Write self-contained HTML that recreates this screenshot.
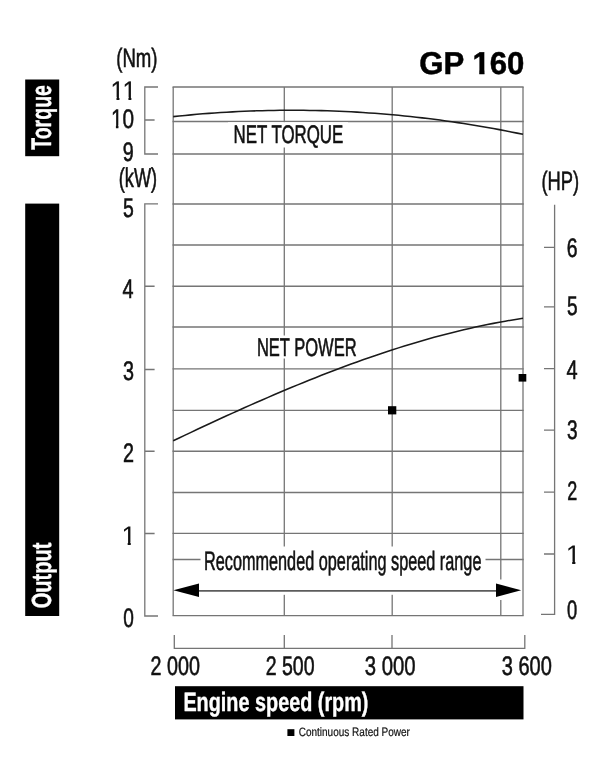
<!DOCTYPE html>
<html lang="en"><head><meta charset="utf-8"><title>GP 160 performance curve</title>
<style>html,body{margin:0;padding:0;background:#fff}svg{display:block}text{font-family:"Liberation Sans",Arial,Helvetica,sans-serif;text-rendering:geometricPrecision}</style></head><body>
<svg width="600" height="763" viewBox="0 0 600 763">
<rect width="600" height="763" fill="#fff"/>
<g stroke="#757575" stroke-width="1.3" fill="none">
<line x1="173.2" y1="87.0" x2="523.0" y2="87.0" stroke-linecap="square"/>
<line x1="173.2" y1="121.5" x2="523.0" y2="121.5" stroke-linecap="square"/>
<line x1="173.2" y1="154.0" x2="523.0" y2="154.0" stroke-linecap="square"/>
<line x1="173.2" y1="204.0" x2="523.0" y2="204.0" stroke-linecap="square"/>
<line x1="173.2" y1="245" x2="523.0" y2="245" stroke-linecap="square"/>
<line x1="173.2" y1="286.25" x2="523.0" y2="286.25" stroke-linecap="square"/>
<line x1="173.2" y1="327.0" x2="523.0" y2="327.0" stroke-linecap="square"/>
<line x1="173.2" y1="368.8" x2="523.0" y2="368.8" stroke-linecap="square"/>
<line x1="173.2" y1="410.3" x2="523.0" y2="410.3" stroke-linecap="square"/>
<line x1="173.2" y1="451.25" x2="523.0" y2="451.25" stroke-linecap="square"/>
<line x1="173.2" y1="492.5" x2="523.0" y2="492.5" stroke-linecap="square"/>
<line x1="173.2" y1="533.4" x2="523.0" y2="533.4" stroke-linecap="square"/>
<line x1="173.2" y1="559.5" x2="523.0" y2="559.5" stroke-linecap="square"/>
<line x1="173.2" y1="615.6" x2="523.0" y2="615.6" stroke-linecap="square"/>
<line x1="173.2" y1="87.0" x2="173.2" y2="615.6"/>
<line x1="284.3" y1="87.0" x2="284.3" y2="615.6"/>
<line x1="392.2" y1="87.0" x2="392.2" y2="615.6"/>
<line x1="500.8" y1="87.0" x2="500.8" y2="615.6"/>
<line x1="523.0" y1="87.0" x2="523.0" y2="615.6"/>
<path d="M158,87 H144.8 V154 H158 M144.8,120 H154.6"/>
<path d="M158,203.9 H144.8 V616 H158 M144.8,286.25 H154.6 M144.8,369.5 H154.6 M144.8,451.25 H154.6 M144.8,533.5 H154.6"/>
<path d="M554.6,204.7 V614.3 H541 M554.6,247.4 H544 M554.6,306.8 H544 M554.6,368.6 H544 M554.6,430.1 H544 M554.6,492.1 H544 M554.6,554 H544"/>
<path d="M174.3,635 V648.3 H524.8 V635 M284.3,635 V648.3 M392,635 V648.3"/>
</g>
<rect x="228" y="122.2" width="120" height="25.3" fill="#fff"/>
<rect x="252" y="335.5" width="109" height="23" fill="#fff"/>
<rect x="200.5" y="546.5" width="285" height="48.3" fill="#fff"/>
<path d="M173.2,116.62 L179.1,116.00 L185.1,115.42 L191.0,114.86 L196.9,114.34 L202.8,113.85 L208.8,113.39 L214.7,112.97 L220.6,112.57 L226.6,112.20 L232.5,111.87 L238.4,111.57 L244.3,111.30 L250.3,111.06 L256.2,110.85 L262.1,110.67 L268.1,110.53 L274.0,110.41 L279.9,110.33 L285.8,110.28 L291.8,110.26 L297.7,110.28 L303.6,110.32 L309.6,110.40 L315.5,110.50 L321.4,110.64 L327.3,110.81 L333.3,111.02 L339.2,111.25 L345.1,111.52 L351.1,111.81 L357.0,112.14 L362.9,112.50 L368.9,112.90 L374.8,113.32 L380.7,113.78 L386.6,114.27 L392.6,114.79 L398.5,115.34 L404.4,115.92 L410.4,116.54 L416.3,117.19 L422.2,117.87 L428.1,118.58 L434.1,119.33 L440.0,120.10 L445.9,120.91 L451.9,121.75 L457.8,122.62 L463.7,123.53 L469.6,124.47 L475.6,125.43 L481.5,126.44 L487.4,127.47 L493.4,128.54 L499.3,129.63 L505.2,130.76 L511.1,131.93 L517.1,133.12 L523.0,134.35" stroke="#1a1a1a" stroke-width="1.55" fill="none"/>
<path d="M173.2,440.77 L179.1,437.94 L185.1,435.13 L191.0,432.33 L196.9,429.54 L202.8,426.76 L208.8,424.00 L214.7,421.25 L220.6,418.52 L226.6,415.81 L232.5,413.12 L238.4,410.44 L244.3,407.78 L250.3,405.15 L256.2,402.53 L262.1,399.94 L268.1,397.36 L274.0,394.81 L279.9,392.29 L285.8,389.78 L291.8,387.31 L297.7,384.86 L303.6,382.43 L309.6,380.04 L315.5,377.67 L321.4,375.33 L327.3,373.02 L333.3,370.74 L339.2,368.49 L345.1,366.27 L351.1,364.09 L357.0,361.93 L362.9,359.82 L368.9,357.74 L374.8,355.69 L380.7,353.68 L386.6,351.71 L392.6,349.77 L398.5,347.87 L404.4,346.02 L410.4,344.20 L416.3,342.42 L422.2,340.69 L428.1,338.99 L434.1,337.34 L440.0,335.74 L445.9,334.17 L451.9,332.66 L457.8,331.19 L463.7,329.76 L469.6,328.39 L475.6,327.06 L481.5,325.78 L487.4,324.55 L493.4,323.37 L499.3,322.24 L505.2,321.17 L511.1,320.14 L517.1,319.18 L523.0,318.26" stroke="#1a1a1a" stroke-width="1.55" fill="none"/>
<rect x="499" y="579.5" width="3.6" height="20.5" fill="#fff"/>
<path d="M197,590.8 H497" stroke="#5c5c5c" stroke-width="1.7" fill="none"/>
<path d="M173.4,590.2 L199,583.5 L199,596.9 Z" fill="#000"/>
<path d="M521.2,590.2 L496,583.5 L496,596.9 Z" fill="#000"/>
<rect x="388" y="406.2" width="8.3" height="8.2" fill="#000"/>
<rect x="518.6" y="374" width="7.7" height="7.6" fill="#000"/>
<rect x="25.2" y="79.5" width="34" height="76.7" fill="#000"/>
<rect x="25.2" y="203.6" width="34" height="412.4" fill="#000"/>
<rect x="175" y="686.2" width="348.5" height="33.2" fill="#000"/>
<rect x="287.4" y="729.2" width="7" height="6.8" fill="#000"/>
<text transform="translate(50.60,149.80) rotate(-90) scale(0.6899,1)" font-size="28.34" font-weight="bold" fill="#fff" stroke="#fff" stroke-width="0.4" vector-effect="non-scaling-stroke">Torque</text>
<text transform="translate(50.70,608.30) rotate(-90) scale(0.7253,1)" font-size="27.65" font-weight="bold" fill="#fff" stroke="#fff" stroke-width="0.4" vector-effect="non-scaling-stroke">Output</text>
<text transform="translate(183.40,711.00) scale(0.7455,1)" font-size="26.60" font-weight="bold" fill="#fff" stroke="#fff" stroke-width="0.4" vector-effect="non-scaling-stroke">Engine speed (rpm)</text>
<clipPath id="c1"><path d="M-5.00,-37.85h116.39v33.85h-116.39zM-1.58,-4.25h26.11v12.62h-26.11zM24.91,-4.25h20.66v12.62h-20.66zM45.38,-4.25h8.38v12.62h-8.38zM60.66,-4.25h5.27v12.62h-5.27zM71.68,-4.25h17.16v12.62h-17.16zM89.23,-4.25h18.74v12.62h-18.74z"/></clipPath><text transform="translate(419.32,74.00) scale(0.9884,1)" font-size="31.54" font-weight="bold" fill="#000" stroke="#000" stroke-width="0.5" vector-effect="non-scaling-stroke" clip-path="url(#c1)">GP 160</text>
<text transform="translate(116.20,67.00) scale(0.6991,1)" font-size="26.60" fill="#111" stroke="#111" stroke-width="0.6" vector-effect="non-scaling-stroke">(Nm)</text>
<text transform="translate(118.80,187.00) scale(0.6732,1)" font-size="27.03" fill="#111" stroke="#111" stroke-width="0.6" vector-effect="non-scaling-stroke">(kW)</text>
<text transform="translate(541.50,190.00) scale(0.6897,1)" font-size="26.60" fill="#111" stroke="#111" stroke-width="0.6" vector-effect="non-scaling-stroke">(HP)</text>
<text transform="translate(233.60,143.00) scale(0.6671,1)" font-size="25.29" fill="#111" stroke="#111" stroke-width="0.6" vector-effect="non-scaling-stroke">NET TORQUE</text>
<text transform="translate(256.90,356.00) scale(0.6529,1)" font-size="25.29" fill="#111" stroke="#111" stroke-width="0.6" vector-effect="non-scaling-stroke">NET POWER</text>
<text transform="translate(204.00,570.00) scale(0.6113,1)" font-size="26.60" fill="#111" stroke="#111" stroke-width="0.6" vector-effect="non-scaling-stroke">Recommended operating speed range</text>
<text transform="translate(298.70,736.00) scale(0.8199,1)" font-size="12.21" fill="#111" stroke="#111" stroke-width="0.2" vector-effect="non-scaling-stroke">Continuous Rated Power</text>
<clipPath id="c2"><path d="M-5.00,-32.16h37.82v29.16h-37.82zM6.34,-3.25h3.18v10.72h-3.18zM19.25,-3.25h3.18v10.72h-3.18z"/></clipPath><text transform="translate(110.62,100.00) scale(0.9251,1)" font-size="26.80" fill="#111" stroke="#111" stroke-width="0.16" vector-effect="non-scaling-stroke" clip-path="url(#c2)">11</text>
<clipPath id="c3"><path d="M-5.00,-32.16h39.81v29.16h-39.81zM6.34,-3.25h3.18v10.72h-3.18zM15.23,-3.25h15.92v10.72h-15.92z"/></clipPath><text transform="translate(111.01,128.00) scale(0.7753,1)" font-size="26.80" fill="#111" stroke="#111" stroke-width="0.51" vector-effect="non-scaling-stroke" clip-path="url(#c3)">10</text>
<text transform="translate(122.70,161.00) scale(0.7382,1)" font-size="26.80" fill="#111" stroke="#111" stroke-width="0.6" vector-effect="non-scaling-stroke">9</text>
<text transform="translate(122.90,217.00) scale(0.7248,1)" font-size="26.80" fill="#111" stroke="#111" stroke-width="0.6" vector-effect="non-scaling-stroke">5</text>
<text transform="translate(122.60,298.00) scale(0.7382,1)" font-size="26.80" fill="#111" stroke="#111" stroke-width="0.6" vector-effect="non-scaling-stroke">4</text>
<text transform="translate(123.10,380.00) scale(0.7382,1)" font-size="26.80" fill="#111" stroke="#111" stroke-width="0.6" vector-effect="non-scaling-stroke">3</text>
<text transform="translate(123.00,462.00) scale(0.7382,1)" font-size="26.80" fill="#111" stroke="#111" stroke-width="0.6" vector-effect="non-scaling-stroke">2</text>
<clipPath id="c4"><path d="M-5.00,-32.16h24.90v29.16h-24.90zM6.34,-3.25h3.18v10.72h-3.18z"/></clipPath><text transform="translate(121.49,545.00) scale(0.9747,1)" font-size="26.80" fill="#111" stroke="#111" stroke-width="0.04" vector-effect="non-scaling-stroke" clip-path="url(#c4)">1</text>
<text transform="translate(123.30,627.00) scale(0.7114,1)" font-size="26.80" fill="#111" stroke="#111" stroke-width="0.6" vector-effect="non-scaling-stroke">0</text>
<text transform="translate(566.70,257.00) scale(0.7248,1)" font-size="26.80" fill="#111" stroke="#111" stroke-width="0.6" vector-effect="non-scaling-stroke">6</text>
<text transform="translate(566.90,315.00) scale(0.7114,1)" font-size="26.80" fill="#111" stroke="#111" stroke-width="0.6" vector-effect="non-scaling-stroke">5</text>
<text transform="translate(566.40,379.00) scale(0.7449,1)" font-size="26.80" fill="#111" stroke="#111" stroke-width="0.58" vector-effect="non-scaling-stroke">4</text>
<text transform="translate(566.90,439.00) scale(0.7114,1)" font-size="26.80" fill="#111" stroke="#111" stroke-width="0.6" vector-effect="non-scaling-stroke">3</text>
<text transform="translate(567.20,500.00) scale(0.6711,1)" font-size="26.80" fill="#111" stroke="#111" stroke-width="0.6" vector-effect="non-scaling-stroke">2</text>
<clipPath id="c5"><path d="M-5.00,-32.16h24.90v29.16h-24.90zM6.34,-3.25h3.18v10.72h-3.18z"/></clipPath><text transform="translate(565.81,564.00) scale(1.0052,1)" font-size="26.80" fill="#111" clip-path="url(#c5)">1</text>
<text transform="translate(567.10,619.00) scale(0.6845,1)" font-size="26.80" fill="#111" stroke="#111" stroke-width="0.6" vector-effect="non-scaling-stroke">0</text>
<text transform="translate(150.60,675.00) scale(0.7367,1)" font-size="26.80" fill="#111" stroke="#111" stroke-width="0.6" vector-effect="non-scaling-stroke">2 000</text>
<text transform="translate(265.70,675.00) scale(0.7293,1)" font-size="26.80" fill="#111" stroke="#111" stroke-width="0.6" vector-effect="non-scaling-stroke">2 500</text>
<text transform="translate(364.70,675.00) scale(0.7576,1)" font-size="26.80" fill="#111" stroke="#111" stroke-width="0.55" vector-effect="non-scaling-stroke">3 000</text>
<text transform="translate(501.70,675.00) scale(0.7472,1)" font-size="26.80" fill="#111" stroke="#111" stroke-width="0.58" vector-effect="non-scaling-stroke">3 600</text>
</svg></body></html>
